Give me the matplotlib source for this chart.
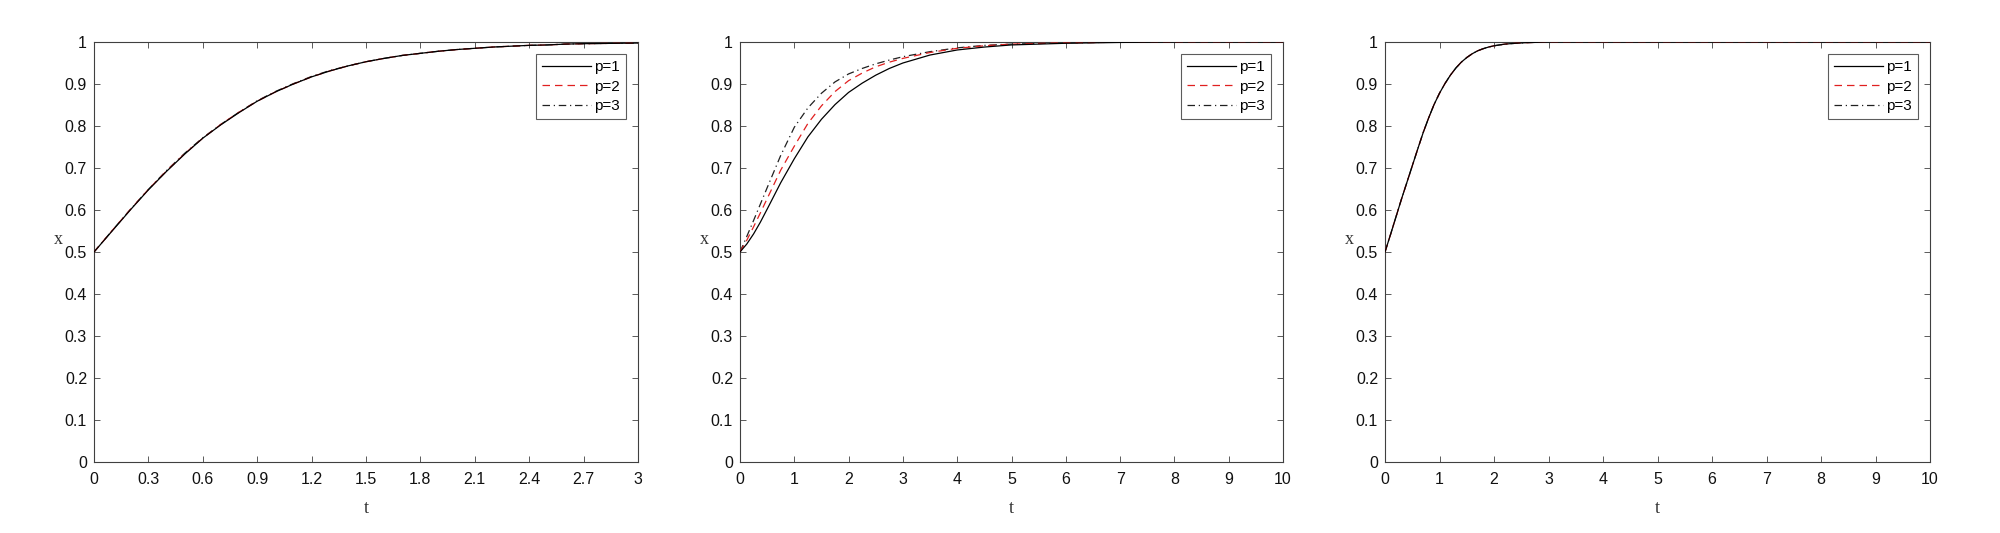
import matplotlib.pyplot as plt
from matplotlib.ticker import FuncFormatter

# ---- data ----
# panel 1 (t in [0, 3])
t1 = [0, 0.1, 0.2, 0.3, 0.4, 0.5, 0.6, 0.7, 0.8, 0.9, 1.0, 1.1, 1.2, 1.3, 1.4, 1.5,
      1.6, 1.7, 1.8, 1.9, 2.0, 2.1, 2.2, 2.3, 2.4, 2.5, 2.6, 2.7, 2.8, 2.9, 3.0]
x1_p1 = [0.5, 0.550, 0.600, 0.648, 0.692, 0.733, 0.771, 0.803, 0.832, 0.859, 0.881,
         0.900, 0.917, 0.931, 0.943, 0.953, 0.961, 0.968, 0.973, 0.978, 0.982, 0.985,
         0.988, 0.990, 0.992, 0.993, 0.995, 0.996, 0.9965, 0.997, 0.9975]
x1_p2 = [0.5, 0.551, 0.601, 0.649, 0.693, 0.734, 0.771, 0.804, 0.833, 0.859, 0.881,
         0.900, 0.917, 0.931, 0.943, 0.953, 0.961, 0.968, 0.973, 0.978, 0.982, 0.985,
         0.988, 0.990, 0.992, 0.993, 0.995, 0.996, 0.9965, 0.997, 0.9975]
x1_p3 = [0.5, 0.551, 0.601, 0.649, 0.694, 0.735, 0.772, 0.804, 0.833, 0.860, 0.882,
         0.901, 0.918, 0.932, 0.943, 0.953, 0.961, 0.968, 0.973, 0.978, 0.982, 0.985,
         0.988, 0.990, 0.992, 0.993, 0.995, 0.996, 0.9965, 0.997, 0.9975]

# panel 2 (t in [0, 10])
t2 = [0, 0.125, 0.25, 0.375, 0.5, 0.75, 1.0, 1.25, 1.5, 1.75, 2.0, 2.25, 2.5, 2.75,
      3.0, 3.5, 4.0, 4.5, 5.0, 6.0, 7.0, 8.0, 9.0, 10.0]
x2_p1 = [0.5, 0.519, 0.543, 0.571, 0.602, 0.665, 0.722, 0.774, 0.816, 0.851, 0.880,
         0.902, 0.921, 0.937, 0.950, 0.969, 0.981, 0.988, 0.993, 0.997, 0.999, 1.0,
         1.0, 1.0]
x2_p2 = [0.5, 0.528, 0.560, 0.593, 0.627, 0.695, 0.752, 0.806, 0.848, 0.882, 0.908,
         0.926, 0.941, 0.952, 0.961, 0.975, 0.985, 0.991, 0.995, 0.998, 0.9995, 1.0,
         1.0, 1.0]
x2_p3 = [0.5, 0.537, 0.575, 0.614, 0.653, 0.730, 0.797, 0.843, 0.878, 0.905, 0.924,
         0.937, 0.948, 0.957, 0.965, 0.977, 0.986, 0.992, 0.995, 0.998, 0.9995, 1.0,
         1.0, 1.0]

# panel 3 (t in [0, 10]) - the three curves coincide
t3 = [0, 0.1, 0.2, 0.3, 0.4, 0.5, 0.6, 0.7, 0.8, 0.9, 1.0, 1.1, 1.2, 1.3, 1.4, 1.5,
      1.6, 1.7, 1.8, 1.9, 2.0, 2.2, 2.4, 2.6, 2.8, 3.0, 4.0, 5.0, 6.0, 7.0, 8.0, 9.0, 10.0]
x3_p1 = [0.5, 0.541, 0.583, 0.625, 0.665, 0.705, 0.745, 0.784, 0.819, 0.851, 0.878,
         0.901, 0.921, 0.938, 0.952, 0.963, 0.972, 0.979, 0.984, 0.988, 0.991, 0.995,
         0.997, 0.9985, 0.9993, 1.0, 1.0, 1.0, 1.0, 1.0, 1.0, 1.0, 1.0]
x3_p2 = x3_p1
x3_p3 = x3_p1

labels = ["p=1", "p=2", "p=3"]
xticks1 = [0, 0.3, 0.6, 0.9, 1.2, 1.5, 1.8, 2.1, 2.4, 2.7, 3.0]
xticks2 = list(range(0, 11))
yticks = [0, 0.1, 0.2, 0.3, 0.4, 0.5, 0.6, 0.7, 0.8, 0.9, 1.0]

panels = [
    (t1, [x1_p1, x1_p2, x1_p3], xticks1, 3),
    (t2, [x2_p1, x2_p2, x2_p3], xticks2, 10),
    (t3, [x3_p1, x3_p2, x3_p3], xticks2, 10),
]

styles = [
    dict(color="black", linestyle="-", zorder=4),
    dict(color="#e02020", linestyle=(0, (6, 4)), zorder=3),
    dict(color="#202020", linestyle=(0, (6, 3, 1, 3)), zorder=2),
]

plt.rcParams["font.family"] = ["Liberation Sans", "DejaVu Sans"]

fig = plt.figure(figsize=(20, 5.33), dpi=100)
lefts = [94, 740, 1385]
widths = [544, 543, 545]
fmt = FuncFormatter(lambda v, pos: "%g" % round(v, 2))

for (t, series, xt, xmax), left, w in zip(panels, lefts, widths):
    ax = fig.add_axes([left / 2000, 1 - 462 / 533, w / 2000, 420 / 533])
    for s, lab, st in zip(series, labels, styles):
        ax.plot(t, s, label=lab, linewidth=0.9, **st)
    ax.set_xlim(0, xmax)
    ax.set_ylim(0, 1)
    ax.set_xticks(xt)
    ax.set_yticks(yticks)
    ax.xaxis.set_major_formatter(fmt)
    ax.yaxis.set_major_formatter(fmt)
    ax.tick_params(direction="in", length=4, width=0.6, top=True, right=True,
                   labelsize=11.5, colors="#404040", labelcolor="#111111")
    ax.tick_params(axis="x", pad=7)
    ax.tick_params(axis="y", pad=5)
    for sp in ax.spines.values():
        sp.set_color("#404040")
        sp.set_linewidth(0.8)

    ax.set_xlabel("t", family="Liberation Serif", fontsize=13, color="#333333")
    ax.xaxis.set_label_coords(0.5, -0.09)
    ax.set_ylabel("x", family="Liberation Serif", fontsize=13, rotation=0,
                  color="#333333", ha="center", va="center")
    ax.yaxis.set_label_coords(-0.066, 0.53)

    # legend order p=1, p=2, p=3
    leg = ax.legend(loc="upper right", fontsize=11, frameon=True, fancybox=False,
                    handlelength=3.2, handletextpad=0.2, labelspacing=0.35,
                    borderpad=0.4, borderaxespad=0.8)
    leg.get_frame().set_edgecolor("#333333")
    leg.get_frame().set_linewidth(0.8)

fig.savefig("out.png", dpi=100)
